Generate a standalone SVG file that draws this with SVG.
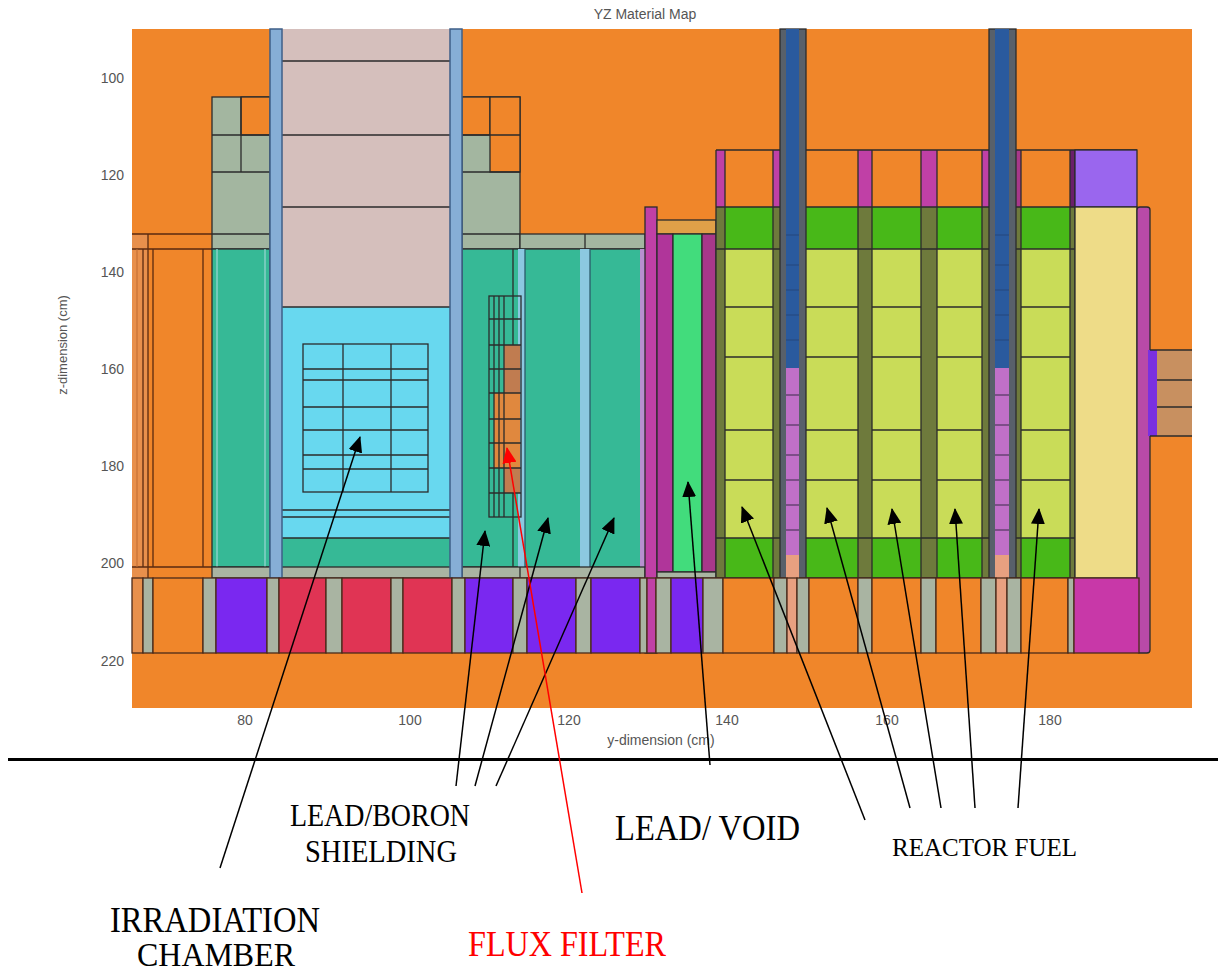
<svg xmlns="http://www.w3.org/2000/svg" width="1218" height="974" viewBox="0 0 1218 974">
<style>
.o{fill:#f0862a}.ol{fill:#e8904c}.gy{fill:#a9b4a2}.sh{fill:#a3b6a0}.te{fill:#36b996}.bl{fill:#86aed6;stroke:#3e5f88;stroke-width:1.5}
.pk{fill:#d5bfbc}.cy{fill:#68d8ef}.pu{fill:#7a28f0}.rd{fill:#e03454}.mg{fill:#c040a6}.dm{fill:#a8388a}
.gr{fill:#42dc7c}.fg{fill:#48b818}.fy{fill:#c9dc58}.ov{fill:#6e7a3c}.sa{fill:#e8a080}
.c{stroke:#2b2b2b;stroke-width:1.3}.cb{stroke:#4a2a1a;stroke-width:1.3}
.ln{fill:none;stroke:#2b2b2b;stroke-width:1.3}.lb{fill:none;stroke:#5a2a10;stroke-width:1.3}
.ax{font-family:"Liberation Sans",Arial,sans-serif;font-size:14px;fill:#555}
.lab{font-family:"Liberation Serif","Times New Roman",serif;fill:#000}
.arr{fill:none;stroke:#000;stroke-width:1.5;marker-end:url(#ah)}
.arrR{fill:none;stroke:#ff0000;stroke-width:1.5;marker-end:url(#ahR)}
</style>
<defs>
<marker id="ah" markerUnits="userSpaceOnUse" markerWidth="16" markerHeight="14" refX="15" refY="7" orient="auto"><path d="M0,0 L16,7 L0,14 z" fill="#000"/></marker>
<marker id="ahR" markerUnits="userSpaceOnUse" markerWidth="16" markerHeight="14" refX="15" refY="7" orient="auto"><path d="M0,0 L16,7 L0,14 z" fill="#ff0000"/></marker>
</defs>
<rect width="1218" height="974" fill="#fff"/>
<g id="material-map">
<rect x="132" y="29" width="1060" height="679" class="o"/>
<!-- column A -->
<rect x="132" y="234" width="16" height="344" class="ol"/>
<path class="lb" d="M132,234H212M132,249H212M132,567H212M143,249V567M148,234V578M153,249V567M203,249V567"/>
<path d="M137,249V567" stroke="#c06a30" stroke-width="1"/>
<!-- column B shield -->
<rect x="212" y="97" width="58" height="152" class="sh c"/>
<rect x="241" y="97" width="29" height="38" class="o c"/>
<path class="ln" d="M212,135H270M212,172H270M241,97V172M212,234H270"/>
<rect x="212" y="249" width="58" height="318" class="te c"/>
<path d="M217,249V567M265,249V567" stroke="#88d0c8" stroke-width="1.5"/>
<!-- column D -->
<rect x="282" y="29" width="168" height="278" class="pk"/>
<rect x="282" y="307" width="168" height="231" class="cy"/>
<rect x="282" y="538" width="168" height="29" class="te"/>
<path class="ln" d="M270,61H462M270,135H462M270,207H462M270,307H462M282,510H450M282,517H450M282,538H450"/>
<rect x="303" y="344" width="125" height="148" class="ln"/>
<path class="ln" d="M343,344V492M391,344V492M303,369H428M303,380H428M303,407H428M303,430H428M303,455H428M303,469H428"/>
<!-- column F shield -->
<rect x="462" y="97" width="58" height="152" class="sh c"/>
<rect x="462" y="97" width="28" height="38" class="o c"/>
<rect x="490" y="97" width="30" height="75" class="o c"/>
<path class="ln" d="M462,135H520M462,172H520M462,234H520"/>
<rect x="520" y="234" width="125" height="15" class="sh c"/>
<path class="ln" d="M585,234V249"/>
<rect x="462" y="249" width="183" height="318" class="te c"/>
<path class="ln" d="M513,249V567M585,249V567"/>
<rect x="518" y="249" width="7" height="318" fill="#8cc8e0"/>
<rect x="580" y="249" width="10" height="318" fill="#8cc8e0"/>
<path d="M525,249V567M590,249V567" stroke="#2b5a6a" stroke-width="1.3"/>
<rect x="640" y="249" width="5" height="318" fill="#b890d0"/>
<!-- flux filter -->
<rect x="504" y="345" width="16" height="48" fill="#c07c50"/>
<rect x="494" y="393" width="26" height="75" fill="#e0883e"/>
<rect x="504" y="468" width="16" height="25" fill="#c07c50"/>
<rect x="489" y="296" width="32" height="221" class="ln"/>
<path class="ln" d="M494,296V517M499,296V517M504,296V517M489,319H521M489,345H521M489,369H521M489,393H521M489,419H521M489,443H521M489,468H521M489,493H521"/>
<!-- thin gray band -->
<rect x="212" y="567" width="433" height="11" class="gy c"/>
<path class="ln" d="M462,567V578M520,567V578"/>
<!-- blue bars -->
<rect x="270" y="29" width="12" height="549" class="bl"/>
<rect x="450" y="29" width="12" height="549" class="bl"/>
<!-- column G -->
<rect x="645" y="207" width="12" height="446" class="mg c"/>
<rect x="657" y="220" width="59" height="14" fill="#e0a048" class="c"/>
<rect x="657" y="234" width="16" height="338" fill="#b0359a" class="c"/>
<rect x="673" y="234" width="29" height="338" class="gr c"/>
<rect x="702" y="234" width="14" height="338" class="dm c"/>
<rect x="657" y="572" width="59" height="6" class="gy c"/>
<!-- fuel region -->
<rect x="716" y="150" width="359" height="428" class="ov"/>
<rect x="716" y="150" width="9" height="57" class="mg"/>
<rect x="773" y="150" width="7" height="57" class="mg"/>
<rect x="858" y="150" width="14" height="57" class="mg"/>
<rect x="921" y="150" width="16" height="57" class="mg"/>
<rect x="982" y="150" width="7" height="57" class="mg"/>
<rect x="1016" y="150" width="5" height="57" class="dm"/>
<rect x="1068" y="150" width="7" height="57" fill="#6a1f6a"/>
<g id="fuel-cells">
<rect x="725" y="150" width="48" height="57" class="o"/><rect x="725" y="207" width="48" height="42" class="fg"/><rect x="725" y="249" width="48" height="289" class="fy"/><rect x="725" y="538" width="48" height="40" class="fg"/>
<rect x="806" y="150" width="52" height="57" class="o"/><rect x="806" y="207" width="52" height="42" class="fg"/><rect x="806" y="249" width="52" height="289" class="fy"/><rect x="806" y="538" width="52" height="40" class="fg"/>
<rect x="872" y="150" width="49" height="57" class="o"/><rect x="872" y="207" width="49" height="42" class="fg"/><rect x="872" y="249" width="49" height="289" class="fy"/><rect x="872" y="538" width="49" height="40" class="fg"/>
<rect x="937" y="150" width="45" height="57" class="o"/><rect x="937" y="207" width="45" height="42" class="fg"/><rect x="937" y="249" width="45" height="289" class="fy"/><rect x="937" y="538" width="45" height="40" class="fg"/>
<rect x="1021" y="150" width="49" height="57" class="o"/><rect x="1021" y="207" width="49" height="42" class="fg"/><rect x="1021" y="249" width="49" height="289" class="fy"/><rect x="1021" y="538" width="49" height="40" class="fg"/>
</g>
<path class="ln" d="M716,150H1137M716,207H1075M716,249H1075M716,538H1075M716,578H1075
M725,307H773M725,357H773M725,430H773M725,480H773
M806,307H858M806,357H858M806,430H858M806,480H858
M872,307H921M872,357H921M872,430H921M872,480H921
M937,307H982M937,357H982M937,430H982M937,480H982
M1021,307H1070M1021,357H1070M1021,430H1070M1021,480H1070
M716,150V578M725,150V578M773,150V578M858,150V578M872,150V578M921,150V578M937,150V578M982,150V578M1021,150V578M1070,150V578M1075,150V578"/>
<!-- rods -->
<g id="rods">
<rect x="780" y="29" width="26" height="549" fill="#58606a" class="c"/>
<rect x="786" y="29" width="13" height="339" fill="#2a5a9e"/>
<rect x="786" y="368" width="13" height="187" fill="#c070c8"/>
<rect x="786" y="555" width="13" height="23" class="sa"/>
<rect x="989" y="29" width="27" height="549" fill="#58606a" class="c"/>
<rect x="995" y="29" width="14" height="339" fill="#2a5a9e"/>
<rect x="995" y="368" width="14" height="187" fill="#c070c8"/>
<rect x="995" y="555" width="14" height="23" class="sa"/>
<path stroke="#223a66" stroke-width="1" opacity="0.6" d="M786,235H799M786,265H799M786,290H799M786,315H799M786,340H799M995,235H1009M995,265H1009M995,290H1009M995,315H1009M995,340H1009"/>
<path stroke="#3a2a4a" stroke-width="1" d="M786,395H799M786,425H799M786,455H799M786,480H799M786,505H799M786,530H799M995,395H1009M995,425H1009M995,455H1009M995,480H1009M995,505H1009M995,530H1009"/>
</g>
<!-- right side -->
<rect x="1075" y="150" width="62" height="57" fill="#9a66ee" class="c"/>
<rect x="1075" y="207" width="62" height="371" fill="#eedc88" class="c"/>
<rect x="1137" y="207" width="13" height="446" rx="3" fill="#b84aa8" class="c"/>
<rect x="1148" y="350" width="9" height="86" fill="#7a30e0"/>
<rect x="1157" y="350" width="35" height="86" fill="#c89060"/>
<path class="ln" d="M1150,350H1192M1157,380H1192M1157,407H1192M1150,436H1192"/>
<!-- bottom band -->
<g id="bottom-band" class="cb">
<rect x="132" y="578" width="11" height="75" class="ol"/>
<rect x="143" y="578" width="10" height="75" class="gy"/>
<rect x="153" y="578" width="50" height="75" class="o"/>
<rect x="203" y="578" width="13" height="75" class="gy"/>
<rect x="216" y="578" width="51" height="75" class="pu"/>
<rect x="267" y="578" width="12" height="75" class="gy"/>
<rect x="279" y="578" width="47" height="75" class="rd"/>
<rect x="326" y="578" width="16" height="75" class="gy"/>
<rect x="342" y="578" width="49" height="75" class="rd"/>
<rect x="391" y="578" width="12" height="75" class="gy"/>
<rect x="403" y="578" width="49" height="75" class="rd"/>
<rect x="452" y="578" width="13" height="75" class="gy"/>
<rect x="465" y="578" width="48" height="75" class="pu"/>
<rect x="513" y="578" width="14" height="75" class="gy"/>
<rect x="527" y="578" width="49" height="75" class="pu"/>
<rect x="576" y="578" width="15" height="75" class="gy"/>
<rect x="591" y="578" width="49" height="75" class="pu"/>
<rect x="640" y="578" width="7" height="75" class="gy"/>
<rect x="647" y="578" width="9" height="75" class="mg"/>
<rect x="656" y="578" width="15" height="75" class="gy"/>
<rect x="671" y="578" width="32" height="75" class="pu"/>
<rect x="703" y="578" width="20" height="75" class="gy"/>
<rect x="723" y="578" width="51" height="75" class="o"/>
<rect x="774" y="578" width="13" height="75" class="gy"/>
<rect x="787" y="578" width="10" height="75" class="sa"/>
<rect x="797" y="578" width="12" height="75" class="gy"/>
<rect x="809" y="578" width="49" height="75" class="o"/>
<rect x="858" y="578" width="14" height="75" class="gy"/>
<rect x="872" y="578" width="49" height="75" class="o"/>
<rect x="921" y="578" width="15" height="75" class="gy"/>
<rect x="936" y="578" width="45" height="75" class="o"/>
<rect x="981" y="578" width="15" height="75" class="gy"/>
<rect x="996" y="578" width="11" height="75" class="sa"/>
<rect x="1007" y="578" width="14" height="75" class="gy"/>
<rect x="1021" y="578" width="47" height="75" class="o"/>
<rect x="1068" y="578" width="6" height="75" class="gy"/>
<rect x="1074" y="578" width="65" height="75" fill="#c838a8"/>
</g>
<text x="645" y="19" text-anchor="middle" class="ax" font-size="13">YZ Material Map</text>
<g class="ax" text-anchor="end">
<text x="124" y="83">100</text><text x="124" y="180">120</text><text x="124" y="277">140</text><text x="124" y="374">160</text><text x="124" y="471">180</text><text x="124" y="568">200</text><text x="124" y="666">220</text>
</g>
<g class="ax" text-anchor="middle">
<text x="245" y="725">80</text><text x="410" y="725">100</text><text x="569" y="725">120</text><text x="727" y="725">140</text><text x="887" y="725">160</text><text x="1050" y="725">180</text>
<text x="661" y="745">y-dimension (cm)</text>
<text transform="translate(67,345) rotate(-90)" font-size="13">z-dimension (cm)</text>
</g>
</g>
<rect x="8" y="758" width="1210" height="3" fill="#000"/>
<g id="connectors">
<path class="arr" d="M220,868L360,437"/>
<path class="arr" d="M456,786L485,531"/>
<path class="arr" d="M475,786L548,518"/>
<path class="arr" d="M496,786L614,518"/>
<path class="arrR" d="M582,893L507,448"/>
<path class="arr" d="M710,765L688,482"/>
<path class="arr" d="M865,820L742,507"/>
<path class="arr" d="M910,808L827,508"/>
<path class="arr" d="M941,808L892,509"/>
<path class="arr" d="M975,808L955,509"/>
<path class="arr" d="M1018,808L1039,509"/>
</g>
<g id="label-irradiation-chamber" class="lab">
<text x="110" y="932" font-size="35" textLength="210" lengthAdjust="spacingAndGlyphs">IRRADIATION</text>
<text x="137" y="966" font-size="33" textLength="158" lengthAdjust="spacingAndGlyphs">CHAMBER</text>
</g>
<g id="label-lead-boron" class="lab">
<text x="290" y="826" font-size="31" textLength="180" lengthAdjust="spacingAndGlyphs">LEAD/BORON</text>
<text x="305" y="862" font-size="31" textLength="152" lengthAdjust="spacingAndGlyphs">SHIELDING</text>
</g>
<g id="label-lead-void" class="lab">
<text x="615" y="840" font-size="35" textLength="185" lengthAdjust="spacingAndGlyphs">LEAD/ VOID</text>
</g>
<g id="label-reactor-fuel" class="lab">
<text x="892" y="856" font-size="26" textLength="185" lengthAdjust="spacingAndGlyphs">REACTOR FUEL</text>
</g>
<g id="label-flux-filter" class="lab">
<text x="468" y="956" font-size="35" fill="#ff0000" textLength="198" lengthAdjust="spacingAndGlyphs">FLUX FILTER</text>
</g>
</svg>
